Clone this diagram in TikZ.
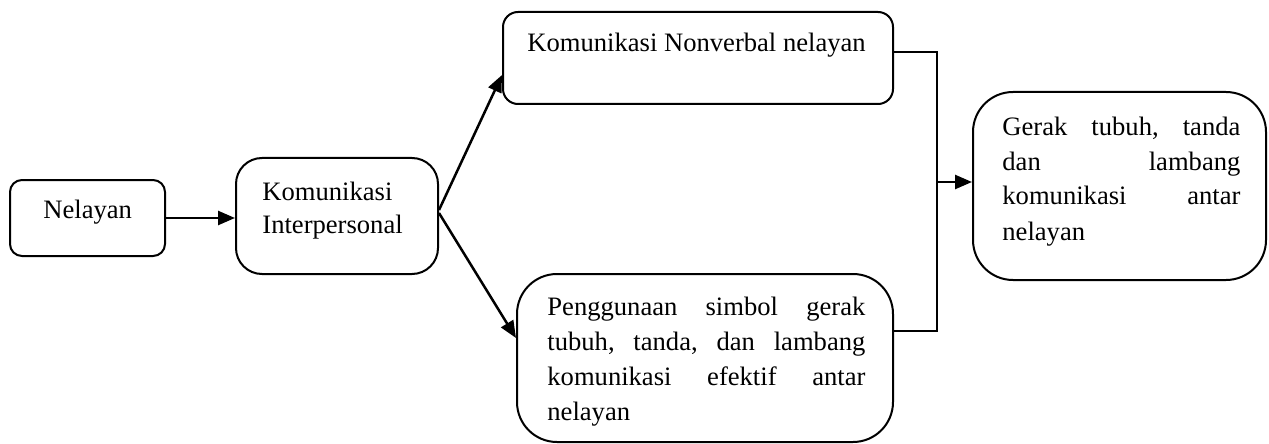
\documentclass[tikz,border=0pt]{standalone}
\usepackage{fontspec}
\setmainfont{Liberation Serif}
\usetikzlibrary{arrows.meta}
\newcommand\jbox[2]{\leavevmode\hbox to #1{#2}}
\tikzset{
  box/.style={draw, line width=1pt, inner sep=0pt},
  txt/.style={inner sep=0pt, anchor=base west},
  arr/.style={-{Triangle[length=8.5pt,width=7pt]}, line width=1.25pt},
  link/.style={line width=1pt}
}
\begin{document}
\begin{tikzpicture}[x=0.5pt, y=-0.5pt, font=\fontsize{13.3}{17.5}\selectfont]
\useasboundingbox (0,0) rectangle (1269,444);
% boxes
\node[box, rounded corners=6pt, minimum width=77.5pt, minimum height=38pt] (nel) at (87.5,218) {};
\node[box, rounded corners=13pt, minimum width=101pt, minimum height=58pt] (inter) at (337,216) {};
\node[box, rounded corners=7.5pt, minimum width=195pt, minimum height=46pt] (top) at (698,58) {};
\node[box, rounded corners=20pt, minimum width=188pt, minimum height=84pt] (bot) at (705,358) {};
\node[box, rounded corners=20pt, minimum width=146.5pt, minimum height=94pt] (right) at (1119.5,186) {};
% texts
\node[txt] (nelT) at (43,218) {Nelayan};
\node[txt, text width=95pt, align=left] (interT) at (262,200) {Komunikasi\\[-1pt]Interpersonal};
\node[txt] (topT) at (527,52) {Komunikasi Nonverbal nelayan};
\node[txt, text width=159pt, align=left] (botT) at (547,315) {%
\jbox{159pt}{Penggunaan\hfill simbol\hfill gerak}\\
\jbox{159pt}{tubuh,\hfill tanda,\hfill dan\hfill lambang}\\
\jbox{159pt}{komunikasi\hfill efektif\hfill antar}\\
nelayan};
\node[txt, text width=119pt, align=left] (rightT) at (1002,135) {%
\jbox{119pt}{Gerak\hfill tubuh,\hfill tanda}\\
\jbox{119pt}{dan\hfill lambang}\\
\jbox{119pt}{komunikasi\hfill antar}\\
nelayan};
% connectors
\coordinate (brk) at (937,182);
\draw[arr] (nel.east) -- (nel.east -| inter.west);
\draw[arr] ([yshift=3pt]inter.east) -- ([yshift=-8.5pt]top.west);
\draw[arr] ([yshift=1.5pt]inter.east) -- ([yshift=10pt]bot.west);
\draw[link] ([yshift=3pt]top.east) -| (brk);
\draw[link] ([yshift=13.5pt]bot.east) -| (brk);
\draw[arr] (brk) -- (brk -| right.west);
\end{tikzpicture}
\end{document}
